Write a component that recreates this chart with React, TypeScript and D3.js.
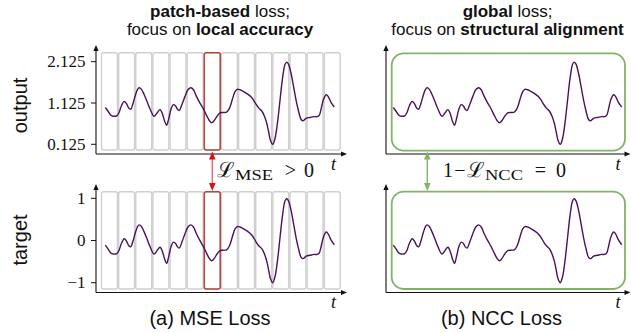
import React from "react";
import * as d3 from "d3";

// ---- data ----
const timeSteps = [0,1.2,2.3,3.5,5.0,6.0,7.1,8.3,9.3,10.2,
  11.1,12.1,13.2,14.1,14.8,15.8,16.9,18.2,19.5,21.3,
  22.6,23.9,25.0,25.9,26.8,27.6,28.7,29.7,30.7,31.5,
  32.3,33.5,34.8,36.1,37.4,38.5,39.8,41.4,42.8,44.2,
  45.5,46.5,47.5,48.8,50.1,51.4,53.0,54.2,55.5,56.6,
  57.6,58.8,60.6,62.3,63.6,64.6,65.8,67.1,68.4,69.5,
  70.5,71.3,72.1,73.1,74.1,75.2,76.3,77.4,78.5,79.2,
  80.0,81.1,82.2,83.3,84.4,85.5,86.4,87.7,89.4,91.1,
  92.5,93.4,94.3,95.3,96.5,97.4,98.5,100];

const targetValues = [-0.11,-0.20,-0.29,-0.32,-0.31,-0.23,-0.06,0.04,-0.02,-0.12,
  -0.15,-0.01,0.20,0.33,0.37,0.33,0.21,0.04,-0.14,-0.32,
  -0.24,-0.16,-0.27,-0.44,-0.54,-0.40,-0.15,-0.04,-0.07,-0.15,
  -0.18,-0.03,0.16,0.32,0.37,0.32,0.16,-0.01,-0.14,-0.30,
  -0.43,-0.48,-0.43,-0.32,-0.24,-0.23,-0.22,-0.13,0.09,0.27,
  0.33,0.32,0.27,0.21,0.15,0.08,-0.03,-0.13,-0.20,-0.32,
  -0.49,-0.69,-0.90,-1.00,-0.86,-0.47,0.07,0.60,0.94,0.99,
  0.94,0.72,0.40,0.07,-0.20,-0.40,-0.43,-0.37,-0.35,-0.33,
  -0.33,-0.30,-0.13,0.09,0.20,0.15,0.02,-0.10];

const outputValues = [1.015,0.925,0.835,0.805,0.815,0.895,1.065,1.165,1.105,1.005,
  0.975,1.115,1.325,1.455,1.495,1.455,1.335,1.165,0.985,0.805,
  0.885,0.965,0.855,0.685,0.585,0.725,0.975,1.085,1.055,0.975,
  0.945,1.095,1.285,1.445,1.495,1.445,1.285,1.115,0.985,0.825,
  0.695,0.645,0.695,0.805,0.885,0.895,0.905,0.995,1.215,1.395,
  1.455,1.445,1.395,1.335,1.275,1.205,1.095,0.995,0.925,0.805,
  0.635,0.435,0.225,0.125,0.265,0.655,1.195,1.725,2.065,2.115,
  2.065,1.845,1.525,1.195,0.925,0.725,0.695,0.755,0.775,0.795,
  0.795,0.825,0.995,1.215,1.325,1.275,1.145,1.025];

const outputTicks = [0.125, 1.125, 2.125];
const outputTickLabels = ["0.125", "1.125", "2.125"];
const targetTicks = [-1, 0, 1];
const targetTickLabels = ["\u22121", "0", "1"];

const patchCount = 14;
const highlightedPatch = 6;

// ---- layout ----
const W = 631, H = 333;
const CURVE = "#4a1259";
const GRAY = "#cfcfcf";
const RED = "#b5473d";
const GREEN = "#82b366";
const SANS = "'Liberation Sans', Arial, sans-serif";
const SERIF = "'Liberation Serif', 'DejaVu Serif', serif";

const xLeft = d3.scaleLinear().domain([0, 100]).range([105.3, 334.3]);
const xRight = d3.scaleLinear().domain([0, 100]).range([393.3, 621.7]);
const yOut = d3.scaleLinear().domain([0.125, 2.125]).range([144.3, 61.7]);
const yTgt = d3.scaleLinear().domain([-1, 1]).range([282.7, 198.3]);
const patchScale = d3.scaleBand<number>().domain(d3.range(patchCount)).range([101, 340.7]).paddingInner(0.07).paddingOuter(0.03);

function linePath(x: d3.ScaleLinear<number, number>, y: d3.ScaleLinear<number, number>, vals: number[]) {
  const gen = d3.line<number>()
    .x((_, i) => x(timeSteps[i]))
    .y((v) => y(v))
    .curve(d3.curveCatmullRom.alpha(0.5));
  return gen(vals) || "";
}

function Axes({ ax, top, bottom, right }: { ax: number; top: number; bottom: number; right: number }) {
  return (
    <g>
      <line x1={ax} y1={bottom} x2={ax} y2={top + 5} stroke="#111" strokeWidth={1.1} />
      <path d={`M${ax},${top} L${ax - 2.6},${top + 6} L${ax + 2.6},${top + 6} Z`} fill="#111" />
      <line x1={ax} y1={bottom} x2={right - 5} y2={bottom} stroke="#111" strokeWidth={1.1} />
      <path d={`M${right},${bottom} L${right - 6},${bottom - 2.6} L${right - 6},${bottom + 2.6} Z`} fill="#111" />
    </g>
  );
}

function Patches({ top, bottom }: { top: number; bottom: number }) {
  return (
    <g>
      {d3.range(patchCount).map((i) => (
        <rect key={i} x={patchScale(i)} y={top} width={patchScale.bandwidth()} height={bottom - top}
          rx={2} fill="none" stroke={GRAY} strokeWidth={1.4} />
      ))}
      <rect x={patchScale(highlightedPatch)} y={top} width={patchScale.bandwidth()} height={bottom - top}
        rx={2} fill="none" stroke={RED} strokeWidth={1.5} />
    </g>
  );
}

function YTicks({ scale, ticks, labels }: { scale: d3.ScaleLinear<number, number>; ticks: number[]; labels: string[] }) {
  return (
    <g>
      {ticks.map((t, i) => (
        <g key={i}>
          <line x1={91} x2={96} y1={scale(t)} y2={scale(t)} stroke="#111" strokeWidth={1} />
          <text x={85.5} y={scale(t) + 5.5} textAnchor="end" fontFamily={SERIF} fontSize={17} fill="#111">{labels[i]}</text>
        </g>
      ))}
    </g>
  );
}

function DoubleArrow({ x, y1, y2, lineColor, headColor }: { x: number; y1: number; y2: number; lineColor: string; headColor: string }) {
  return (
    <g>
      <line x1={x} x2={x} y1={y1 + 5} y2={y2 - 5} stroke={lineColor} strokeWidth={1.4} />
      <path d={`M${x},${y1} L${x - 3.3},${y1 + 8} L${x + 3.3},${y1 + 8} Z`} fill={headColor} />
      <path d={`M${x},${y2} L${x - 3.3},${y2 - 8} L${x + 3.3},${y2 - 8} Z`} fill={headColor} />
    </g>
  );
}

export default function App() {
  const ax = 96, axR = 386;
  const redX = (patchScale(highlightedPatch) as number) + patchScale.bandwidth() / 2;
  return (
    <svg width={W} height={H} viewBox={`0 0 ${W} ${H}`} style={{ position: "absolute", left: 0, top: 0, background: "#fff" }}>
      <rect x={0} y={0} width={W} height={H} fill="#fff" />

      {/* titles */}
      <text x={220} y={17} textAnchor="middle" fontFamily={SANS} fontSize={17} fill="#111">
        <tspan fontWeight="bold">patch-based</tspan><tspan> loss;</tspan>
      </text>
      <text x={220} y={35} textAnchor="middle" fontFamily={SANS} fontSize={17} fill="#111">
        <tspan>focus on </tspan><tspan fontWeight="bold">local accuracy</tspan>
      </text>
      <text x={507.5} y={17} textAnchor="middle" fontFamily={SANS} fontSize={17} fill="#111">
        <tspan fontWeight="bold">global</tspan><tspan> loss;</tspan>
      </text>
      <text x={507.5} y={35} textAnchor="middle" fontFamily={SANS} fontSize={17} fill="#111">
        <tspan>focus on </tspan><tspan fontWeight="bold">structural alignment</tspan>
      </text>

      {/* y labels */}
      <text transform="translate(27,105.5) rotate(-90)" textAnchor="middle" fontFamily={SANS} fontSize={20} fill="#111">output</text>
      <text transform="translate(27,240) rotate(-90)" textAnchor="middle" fontFamily={SANS} fontSize={20} fill="#111">target</text>

      {/* left panels */}
      <Patches top={52.7} bottom={150} />
      <Patches top={191.7} bottom={289} />
      <Axes ax={ax} top={45} bottom={154} right={347} />
      <Axes ax={ax} top={184} bottom={292.5} right={347} />
      <YTicks scale={yOut} ticks={outputTicks} labels={outputTickLabels} />
      <YTicks scale={yTgt} ticks={targetTicks} labels={targetTickLabels} />
      <path d={linePath(xLeft, yOut, outputValues)} fill="none" stroke={CURVE} strokeWidth={1.4} />
      <path d={linePath(xLeft, yTgt, targetValues)} fill="none" stroke={CURVE} strokeWidth={1.4} />
      <text x={331} y={170} fontFamily={SERIF} fontStyle="italic" fontSize={18} fill="#111">t</text>
      <text x={331} y={308} fontFamily={SERIF} fontStyle="italic" fontSize={18} fill="#111">t</text>

      {/* right panels */}
      <rect x={391.7} y={53.3} width={625 - 391.7} height={150.7 - 53.3} rx={12} fill="none" stroke={GREEN} strokeWidth={1.8} />
      <rect x={391.7} y={191.7} width={625 - 391.7} height={289 - 191.7} rx={12} fill="none" stroke={GREEN} strokeWidth={1.8} />
      <Axes ax={axR} top={45} bottom={154} right={630.5} />
      <Axes ax={axR} top={184} bottom={292.5} right={630.5} />
      <path d={linePath(xRight, yOut, outputValues)} fill="none" stroke={CURVE} strokeWidth={1.4} />
      <path d={linePath(xRight, yTgt, targetValues)} fill="none" stroke={CURVE} strokeWidth={1.4} />
      <text x={615.5} y={170} fontFamily={SERIF} fontStyle="italic" fontSize={18} fill="#111">t</text>
      <text x={615.5} y={308} fontFamily={SERIF} fontStyle="italic" fontSize={18} fill="#111">t</text>

      {/* arrows */}
      <DoubleArrow x={redX} y1={151.5} y2={191} lineColor="#e07070" headColor="#d8101a" />
      <DoubleArrow x={427.3} y1={151.5} y2={191} lineColor={GREEN} headColor={GREEN} />

      {/* math labels */}
      <text x={217} y={177} fontFamily="'DejaVu Serif', serif" fontSize={21} fill="#111">{"\u2112"}</text>
      <text x={235} y={180} fontFamily={SERIF} fontSize={15} textLength={38} lengthAdjust="spacingAndGlyphs" fill="#111">MSE</text>
      <text x={290.5} y={177} textAnchor="middle" fontFamily={SERIF} fontSize={20} fill="#111">{">"}</text>
      <text x={309} y={177} textAnchor="middle" fontFamily={SERIF} fontSize={20} fill="#111">0</text>

      <text x={443} y={177} fontFamily={SERIF} fontSize={20} fill="#111">1</text>
      <text x={460} y={177} textAnchor="middle" fontFamily={SERIF} fontSize={20} fill="#111">{"\u2212"}</text>
      <text x={467} y={177} fontFamily="'DejaVu Serif', serif" fontSize={21} fill="#111">{"\u2112"}</text>
      <text x={485} y={180} fontFamily={SERIF} fontSize={15} textLength={38} lengthAdjust="spacingAndGlyphs" fill="#111">NCC</text>
      <text x={540.5} y={177} textAnchor="middle" fontFamily={SERIF} fontSize={20} fill="#111">=</text>
      <text x={561} y={177} textAnchor="middle" fontFamily={SERIF} fontSize={20} fill="#111">0</text>

      {/* captions */}
      <text x={210} y={325} textAnchor="middle" fontFamily={SANS} fontSize={20} fill="#111">(a) MSE Loss</text>
      <text x={501.5} y={325} textAnchor="middle" fontFamily={SANS} fontSize={20} fill="#111">(b) NCC Loss</text>
    </svg>
  );
}
